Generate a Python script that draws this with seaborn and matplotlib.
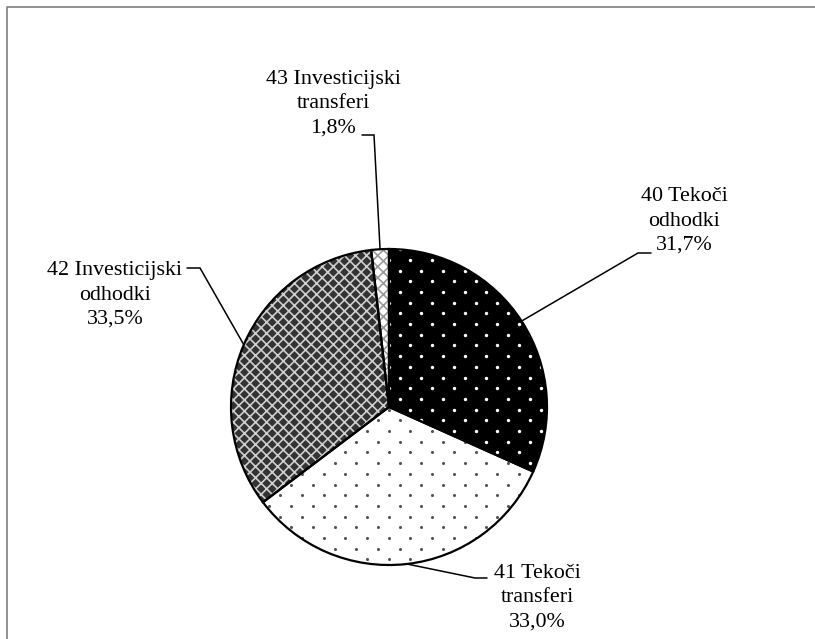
import matplotlib
matplotlib.use("Agg")
import matplotlib.pyplot as plt
import numpy as np
import seaborn as sns
from matplotlib.lines import Line2D

# --- data ---
categories = ["40 Tekoči\nodhodki", "41 Tekoči\ntransferi",
              "42 Investicijski\nodhodki", "43 Investicijski\ntransferi"]
shares = [31.7, 33.0, 33.5, 1.8]

sns.set_theme(style="white")
plt.rcParams["font.family"] = ["Liberation Serif", "DejaVu Serif"]

W, H = 815, 639
CX, CY, R = 389, 407, 158  # pie centre / radius in pixels


def px(x, y):
    # pixel position -> data coords (pie radius = 1)
    return (x - CX) / R, (CY - y) / R


fig = plt.figure(figsize=(W / 100, H / 100), dpi=100)
ax = fig.add_axes([0, 0, 1, 1])

# fills (edgecolor drives the hatch colour)
faces = ["black", "white", "#333333", "white"]
hatch_cols = ["black", "white", "#cfcfcf", "#9a9a9a"]
hatches = [None, None, "xxx", "xxx"]
plt.rcParams["hatch.linewidth"] = 1.2
fills, _ = ax.pie(shares, startangle=90, counterclock=False, radius=1,
                  wedgeprops=dict(linewidth=0))
for w, fc, hc, h in zip(fills, faces, hatch_cols, hatches):
    w.set_facecolor(fc)
    w.set_edgecolor(hc)
    w.set_linewidth(0)
    if h:
        w.set_hatch(h)
    w.set_zorder(1)

# dotted textures for the two "Tekoči" slices
dx, dy = 21.7 / R, 10.7 / R
rows = np.arange(-1.1, 1.1, dy)
gx, gy = [], []
for i, yy in enumerate(rows):
    xs = np.arange(-1.1, 1.1, dx) + (dx / 2 if i % 2 else 0)
    gx.extend(xs)
    gy.extend([yy] * len(xs))
for w, dc, s in zip(fills[:2], ["white", "#555555"], [6, 5]):
    sc = ax.scatter(gx, gy, s=s, color=dc, linewidths=0, zorder=2)
    sc.set_clip_path(w)

# outlines
outl, _ = ax.pie(shares, startangle=90, counterclock=False, radius=1,
                 wedgeprops=dict(fill=False, linewidth=1.6, edgecolor="black"))
for w in outl:
    w.set_zorder(3)

# labels with elbow leader lines (text centre, elbow start, elbow end)
layout = [((684, 221), (651, 253), (638, 253)),
          ((537, 598), (487, 578), (475, 578)),
          ((115, 295), (187, 268), (200, 268)),
          ((333, 104), (362, 135), (374, 135))]
for w, name, val, (tpos, e0, e1) in zip(outl, categories, shares, layout):
    mid = np.deg2rad((w.theta1 + w.theta2) / 2)
    edge = (np.cos(mid), np.sin(mid))
    p0, p1 = px(*e0), px(*e1)
    ax.plot([p0[0], p1[0], edge[0]], [p0[1], p1[1], edge[1]],
            color="black", lw=1.1, zorder=4, solid_joinstyle="miter")
    txt = f"{name}\n{val:.1f}%".replace(".", ",")
    ax.text(*px(*tpos), txt, ha="center", va="center", fontsize=15.8,
            linespacing=1.38, color="black", zorder=5)

ax.set_aspect("auto")
ax.set_xlim(-CX / R, (W - CX) / R)
ax.set_ylim(-(H - CY) / R, CY / R)
ax.axis("off")

# chart area border (top and left visible)
fig.add_artist(Line2D([7 / W, 7 / W, 1.0], [0.0, 1 - 7 / H, 1 - 7 / H],
                      transform=fig.transFigure, color="#7f7f7f", lw=1.2))

fig.savefig("out.png", dpi=100)
